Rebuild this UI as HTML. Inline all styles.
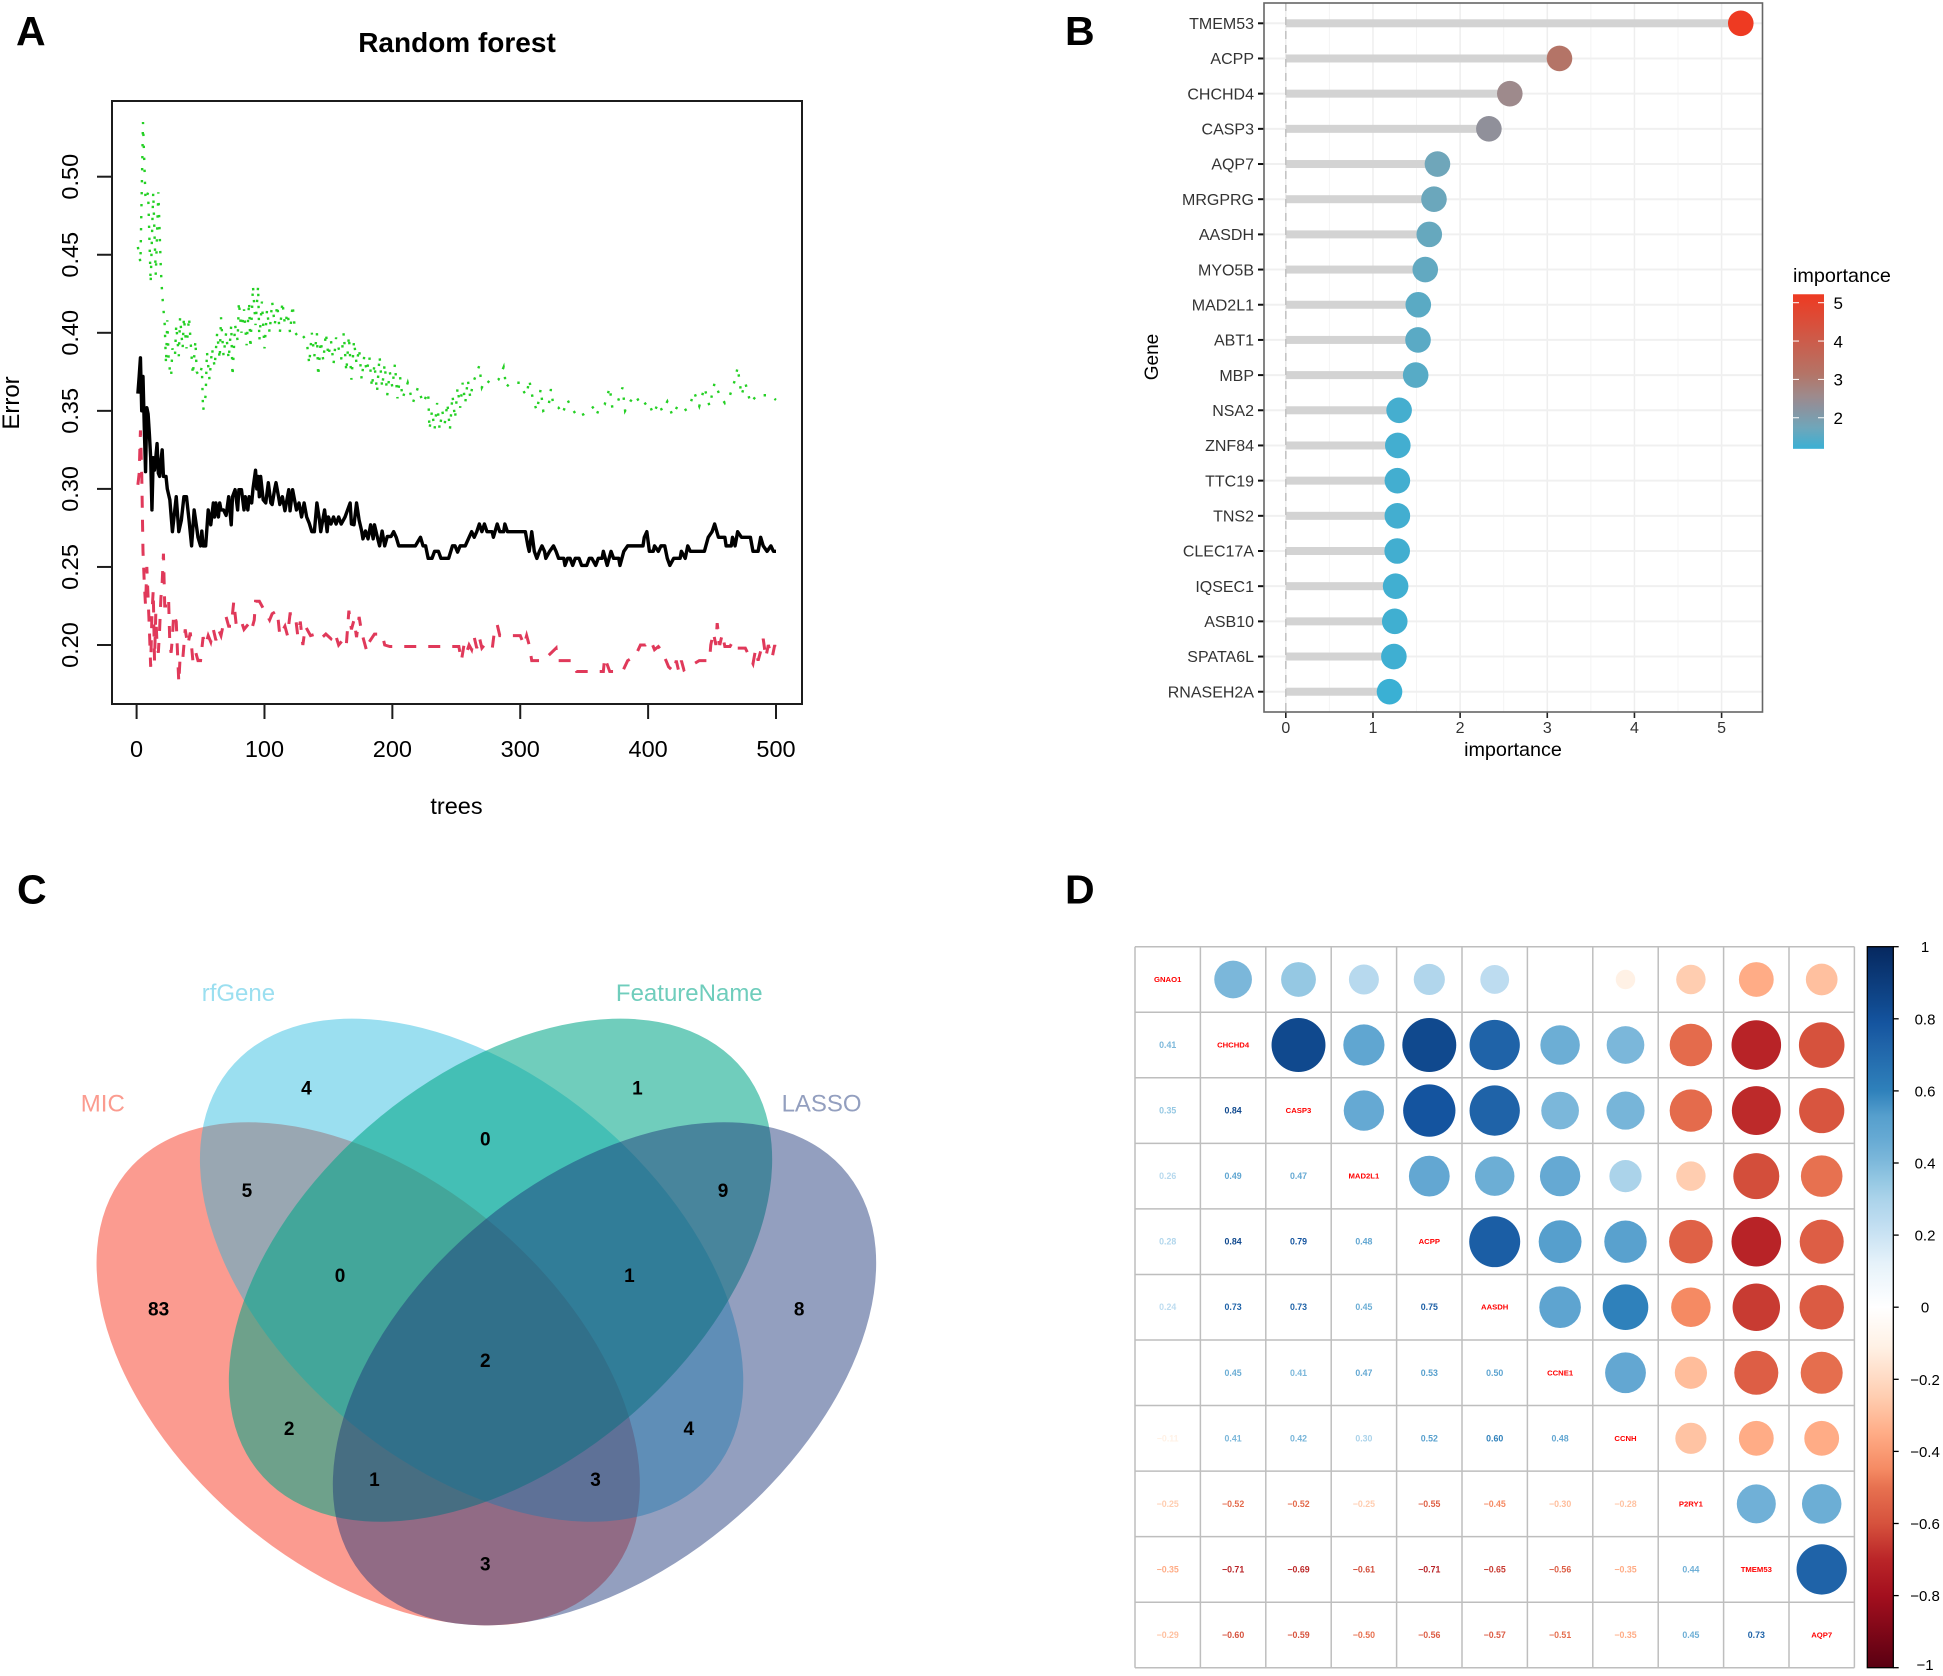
<!DOCTYPE html>
<html lang="en">
<head>
<meta charset="utf-8">
<title>Random forest, gene importance, Venn and correlation panels</title>
<style>
html,body{margin:0;padding:0;background:#fff;}
svg{display:block;font-family:"Liberation Sans",Arial,sans-serif;}
</style>
</head>
<body>
<svg id="figure" xmlns="http://www.w3.org/2000/svg" width="1943" height="1676" viewBox="0 0 1943 1676">
<rect x="0" y="0" width="1943" height="1676" fill="#fff"/>
<text x="16" y="45" font-size="41" font-weight="bold">A</text>
<text x="1065" y="45" font-size="41" font-weight="bold">B</text>
<text x="17" y="903.5" font-size="41" font-weight="bold">C</text>
<text x="1065" y="903.5" font-size="41" font-weight="bold">D</text>

<g>
<ellipse rx="1.2" ry="0.748" fill="#F72F16" fill-opacity="0.48" transform="translate(368.2 1373.8) scale(271.7 251.6) rotate(45)"/>
<ellipse rx="1.2" ry="0.748" fill="#1CB6DD" fill-opacity="0.44" transform="translate(471.6 1270.2) scale(271.7 251.6) rotate(45)"/>
<ellipse rx="1.2" ry="0.748" fill="#00A688" fill-opacity="0.56" transform="translate(500.5 1270.2) scale(271.7 251.6) rotate(-45)"/>
<ellipse rx="1.2" ry="0.748" fill="#1E377A" fill-opacity="0.48" transform="translate(604.5 1373.8) scale(271.7 251.6) rotate(-45)"/>
<g font-size="24" text-anchor="middle">
<text x="102.8" y="1111.5" fill="#FB9B8F">MIC</text>
<text x="238.4" y="1001" fill="#9BDFF0">rfGene</text>
<text x="689.3" y="1001" fill="#6FCDBC">FeatureName</text>
<text x="821.6" y="1111.5" fill="#939FBF">LASSO</text>
</g>
<g font-size="19" font-weight="bold" text-anchor="middle" fill="#000">
<text x="306.4" y="1094.7">4</text>
<text x="637.4" y="1094.7">1</text>
<text x="485.3" y="1145.4">0</text>
<text x="246.9" y="1197">5</text>
<text x="723.1" y="1197">9</text>
<text x="340.1" y="1282">0</text>
<text x="629.4" y="1282">1</text>
<text x="158.6" y="1315.3">83</text>
<text x="799.2" y="1315.3">8</text>
<text x="485.3" y="1367">2</text>
<text x="289.2" y="1435.1">2</text>
<text x="688.8" y="1435.1">4</text>
<text x="374.4" y="1485.8">1</text>
<text x="595.6" y="1485.8">3</text>
<text x="485.3" y="1570.3">3</text>
</g>
</g>
</svg>
<script>
/* ---------- Panel A data: [tree, error] ---------- */
const treeTicks = [0, 100, 200, 300, 400, 500];
const errorTicks = [0.20, 0.25, 0.30, 0.35, 0.40, 0.45, 0.50];
const oobError = [[1,.361],[2,.372],[3,.384],[4,.35],[5,.372],[6,.34],[7,.311],[8,.352],[9,.348],[10,.335],[11,.32],[12,.2865],[13,.32],[14,.312],[15,.32],[16,.329],[17,.31],[18,.308],[19,.318],[20,.325],[21,.308],[23,.308],[24,.3],[26,.293],[28,.2726],[31,.295],[33,.2726],[35,.28],[37,.295],[39,.295],[41,.28],[43,.2635],[45,.2865],[47,.275],[48,.269],[50,.2635],[51,.273],[52,.2635],[54,.2635],[56,.2865],[58,.277],[60,.291],[61,.282],[62,.291],[64,.282],[65,.291],[66,.2865],[68,.2865],[70,.283],[72,.295],[74,.277],[75,.295],[77,.2995],[79,.2865],[80,.2995],[82,.2995],[84,.2865],[85,.295],[87,.2865],[88,.295],[90,.291],[91,.3],[93,.312],[94,.3],[95,.308],[96,.295],[97,.308],[99,.293],[101,.291],[103,.304],[105,.291],[106,.29],[108,.3],[109,.304],[111,.295],[112,.29],[114,.295],[116,.286],[118,.295],[119,.2995],[120,.286],[122,.2995],[125,.2865],[127,.291],[129,.282],[131,.291],[133,.282],[135,.278],[137,.2726],[139,.2726],[141,.291],[143,.28],[144,.2726],[146,.282],[147,.2865],[149,.2726],[150,.282],[152,.2775],[154,.282],[156,.2775],[158,.282],[160,.2775],[163,.282],[165,.2865],[167,.291],[168,.2775],[170,.277],[172,.291],[174,.28],[176,.273],[177,.268],[179,.273],[181,.268],[183,.277],[185,.268],[186,.277],[188,.27],[190,.2635],[192,.273],[194,.2635],[196,.2695],[199,.2695],[201,.2726],[203,.269],[205,.2635],[212,.2635],[215,.2635],[218,.2635],[222,.269],[224,.2635],[226,.2635],[228,.2555],[231,.2555],[233,.26],[236,.26],[238,.2555],[244,.2555],[247,.2635],[249,.2635],[251,.2595],[253,.2635],[257,.2635],[260,.269],[262,.2726],[264,.269],[266,.2726],[268,.2775],[270,.2726],[272,.2775],[274,.2726],[278,.2726],[279,.269],[282,.2775],[284,.2726],[287,.2726],[288,.2775],[290,.2726],[304,.2726],[306,.2635],[307,.26],[309,.2726],[311,.26],[313,.2555],[315,.26],[317,.2635],[319,.26],[320,.2555],[323,.26],[326,.2635],[328,.26],[330,.2555],[334,.2555],[335,.251],[337,.2555],[339,.2555],[341,.251],[343,.2555],[346,.2555],[348,.251],[352,.251],[354,.2555],[356,.2555],[359,.251],[361,.2555],[364,.2555],[365,.26],[368,.251],[371,.26],[373,.2555],[377,.2555],[378,.251],[381,.26],[384,.2635],[386,.2635],[396,.2635],[397,.269],[399,.2726],[401,.26],[404,.26],[405,.2635],[408,.26],[410,.2635],[413,.2635],[415,.2555],[417,.251],[420,.2555],[425,.2555],[426,.26],[429,.2555],[431,.2635],[433,.26],[444,.26],[447,.269],[450,.2726],[452,.2775],[455,.269],[460,.269],[461,.2635],[465,.2635],[466,.269],[468,.2635],[470,.2726],[473,.269],[480,.269],[482,.26],[486,.26],[488,.269],[490,.2635],[493,.26],[496,.2635],[498,.26],[500,.26]];
const classOneError = [[1,.3026],[2,.31],[3,.3375],[4,.31],[5,.26],[6,.24],[7,.225],[8,.25],[9,.23],[10,.21],[11,.186],[12,.22],[13,.235],[14,.19],[15,.22],[16,.2],[17,.195],[18,.21],[19,.23],[20,.24],[21,.2585],[22,.225],[24,.225],[25,.23],[26,.2],[27,.195],[28,.205],[29,.22],[31,.215],[32,.195],[33,.176],[34,.192],[36,.19],[38,.21],[40,.2],[42,.208],[44,.19],[46,.196],[48,.19],[50,.19],[52,.205],[54,.2],[56,.206],[58,.202],[60,.21],[62,.203],[64,.21],[66,.206],[68,.214],[70,.218],[72,.212],[74,.212],[76,.228],[78,.212],[82,.215],[84,.21],[88,.214],[90,.21],[92,.216],[93,.228],[96,.228],[100,.222],[104,.216],[106,.22],[110,.222],[112,.206],[116,.212],[118,.206],[120,.22],[124,.22],[126,.206],[128,.215],[130,.2],[132,.212],[136,.206],[140,.207],[144,.204],[148,.207],[152,.204],[155,.208],[158,.2],[162,.204],[164,.2],[166,.222],[168,.21],[170,.216],[172,.205],[174,.218],[176,.208],[180,.196],[182,.202],[186,.207],[192,.207],[194,.2],[198,.199],[240,.199],[252,.199],[254,.19],[256,.2],[258,.195],[260,.2],[262,.197],[264,.205],[266,.198],[268,.205],[270,.198],[272,.2],[278,.197],[280,.21],[282,.213],[284,.206],[300,.206],[303,.2],[305,.206],[307,.2],[309,.19],[316,.19],[318,.19],[328,.198],[329,.19],[336,.19],[340,.19],[342,.186],[344,.183],[356,.183],[365,.183],[366,.192],[370,.183],[380,.183],[384,.19],[390,.193],[394,.2],[398,.2],[402,.203],[405,.197],[408,.199],[410,.197],[414,.19],[416,.186],[420,.183],[422,.19],[424,.183],[426,.19],[428,.184],[440,.19],[448,.19],[449,.2],[451,.208],[453,.2],[454,.214],[456,.2],[458,.207],[460,.199],[464,.199],[466,.202],[468,.198],[476,.198],[482,.188],[484,.197],[486,.19],[488,.196],[490,.204],[492,.192],[494,.2],[497,.192],[499,.2],[500,.196]];
const classTwoError = [[1,.455],[3,.445],[5,.535],[7,.485],[9,.49],[11,.432],[13,.49],[15,.437],[17,.49],[19,.44],[20,.425],[22,.405],[23,.38],[24,.408],[25,.385],[26,.376],[27,.372],[28,.39],[30,.385],[31,.405],[33,.385],[34,.41],[36,.39],[37,.41],[39,.39],[41,.41],[43,.385],[44,.373],[46,.395],[47,.375],[49,.372],[51,.378],[52,.35],[54,.36],[55,.388],[57,.37],[59,.39],[61,.378],[63,.40],[65,.383],[66,.41],[68,.385],[70,.40],[72,.383],[74,.405],[75,.372],[77,.405],[79,.395],[80,.42],[82,.40],[84,.415],[86,.392],[88,.42],[89,.39],[91,.43],[93,.405],[95,.43],[96,.395],[98,.42],[100,.39],[102,.415],[104,.40],[106,.42],[108,.405],[110,.418],[112,.40],[114,.42],[116,.405],[118,.413],[120,.40],[122,.418],[124,.40],[126,.398],[128,.40],[133,.395],[135,.38],[137,.40],[139,.385],[141,.40],[142,.372],[144,.395],[146,.382],[148,.40],[150,.385],[152,.395],[154,.38],[156,.397],[158,.39],[160,.383],[162,.40],[164,.375],[166,.398],[168,.37],[170,.395],[172,.38],[174,.39],[176,.37],[178,.385],[180,.375],[182,.385],[184,.365],[186,.38],[188,.362],[190,.385],[192,.365],[194,.38],[196,.36],[198,.375],[200,.365],[202,.38],[204,.358],[206,.372],[208,.358],[212,.368],[216,.355],[220,.365],[224,.355],[228,.362],[229,.338],[231,.35],[233,.338],[235,.355],[237,.338],[239,.35],[241,.342],[243,.355],[245,.338],[247,.36],[249,.345],[251,.365],[253,.352],[255,.368],[257,.355],[259,.37],[261,.358],[263,.368],[265,.372],[268,.379],[270,.365],[273,.37],[276,.368],[280,.368],[283,.37],[287,.378],[289,.365],[292,.368],[296,.368],[300,.368],[303,.362],[305,.36],[307,.37],[310,.357],[313,.35],[316,.364],[318,.35],[322,.352],[324,.364],[326,.353],[330,.352],[333,.348],[337,.357],[340,.352],[345,.346],[350,.348],[358,.353],[360,.348],[362,.352],[366,.354],[370,.365],[372,.352],[376,.355],[380,.365],[382,.35],[386,.356],[390,.36],[395,.353],[400,.356],[404,.348],[408,.355],[411,.35],[415,.356],[419,.347],[423,.353],[428,.35],[432,.352],[436,.362],[440,.353],[444,.365],[448,.353],[452,.368],[456,.36],[460,.355],[464,.36],[468,.37],[470,.378],[473,.36],[476,.368],[480,.355],[485,.36],[490,.36],[495,.36],[500,.357]];

/* ---------- Panel B data ---------- */
const geneCategories = ["TMEM53","ACPP","CHCHD4","CASP3","AQP7","MRGPRG","AASDH","MYO5B","MAD2L1","ABT1","MBP","NSA2","ZNF84","TTC19","TNS2","CLEC17A","IQSEC1","ASB10","SPATA6L","RNASEH2A"];
const geneImportance = [5.22,3.14,2.57,2.33,1.74,1.70,1.646,1.60,1.52,1.517,1.49,1.30,1.285,1.28,1.28,1.278,1.26,1.25,1.24,1.19];
const importanceTicks = [0,1,2,3,4,5];
const legendTicks = [2,3,4,5];

/* ---------- Panel D data ---------- */
const corrGenes = ["GNAO1","CHCHD4","CASP3","MAD2L1","ACPP","AASDH","CCNE1","CCNH","P2RY1","TMEM53","AQP7"];
const corrLower = [
  [],
  [0.41],
  [0.35,0.84],
  [0.26,0.49,0.47],
  [0.28,0.84,0.79,0.48],
  [0.24,0.73,0.73,0.45,0.75],
  [null,0.45,0.41,0.47,0.53,0.50],
  [-0.11,0.41,0.42,0.30,0.52,0.60,0.48],
  [-0.25,-0.52,-0.52,-0.25,-0.55,-0.45,-0.30,-0.28],
  [-0.35,-0.71,-0.69,-0.61,-0.71,-0.65,-0.56,-0.35,0.44],
  [-0.29,-0.60,-0.59,-0.50,-0.56,-0.57,-0.51,-0.35,0.45,0.73]
];
const colorbarTicks = [1,0.8,0.6,0.4,0.2,0,-0.2,-0.4,-0.6,-0.8,-1];

const NS = "http://www.w3.org/2000/svg";
const svg = document.getElementById("figure");
function el(tag, attrs, parent, txt){
  const e = document.createElementNS(NS, tag);
  for (const k in attrs) e.setAttribute(k, attrs[k]);
  if (txt !== undefined) e.textContent = txt;
  (parent || svg).appendChild(e);
  return e;
}
function hex(c){return [parseInt(c.slice(1,3),16),parseInt(c.slice(3,5),16),parseInt(c.slice(5,7),16)];}
function ramp(stops, v){
  if (v <= stops[0][0]) return stops[0][1];
  for (let i = 1; i < stops.length; i++){
    if (v <= stops[i][0]){
      const t = (v - stops[i-1][0]) / (stops[i][0] - stops[i-1][0]);
      const a = hex(stops[i-1][1]), b = hex(stops[i][1]);
      return "rgb(" + a.map((x,j)=>Math.round(x + (b[j]-x)*t)).join(",") + ")";
    }
  }
  return stops[stops.length-1][1];
}

/* ===== Panel A ===== */
const gA = el("g", {});


const xTree = t => 136.6 + t * 1.2788;
const yErr = v => 645 - (v - 0.2) * 1561;
const title = el("text", {x:457, y:52, "font-size":28, "font-weight":"bold", "text-anchor":"middle"}, gA, "Random forest");


const boxA = el("rect", {x:112, y:101, width:690, height:603, fill:"none", stroke:"#1c1c1c", "stroke-width":2}, gA);


treeTicks.forEach(t => {
  const tick = el("line", {x1:xTree(t), x2:xTree(t), y1:704, y2:719, stroke:"#1c1c1c", "stroke-width":2}, gA);
  
  
  const lab = el("text", {x:xTree(t), y:757, "font-size":23.5, "text-anchor":"middle"}, gA, String(t));
  
  
});
errorTicks.forEach(v => {
  const tick = el("line", {x1:97, x2:112, y1:yErr(v), y2:yErr(v), stroke:"#1c1c1c", "stroke-width":2}, gA);
  
  
  const lab = el("text", {"font-size":23.5, "text-anchor":"middle", transform:"translate(78 " + yErr(v) + ") rotate(-90)"}, gA, v.toFixed(2));
  
  
});
const xTitleA = el("text", {x:456.5, y:814, "font-size":23.5, "text-anchor":"middle"}, gA, "trees");


const yTitleA = el("text", {"font-size":24, "text-anchor":"middle", transform:"translate(19 403) rotate(-90)"}, gA, "Error");


function pts(arr){return arr.map(p => xTree(p[0]).toFixed(2) + "," + yErr(p[1]).toFixed(2)).join(" ");}
const lineOob = el("polyline", {points:pts(oobError), fill:"none", stroke:"#000", "stroke-width":3.4, "stroke-linejoin":"round"}, gA);


const lineOne = el("polyline", {points:pts(classOneError), fill:"none", stroke:"#E0395A", "stroke-width":3, "stroke-dasharray":"12 12"}, gA);


const lineTwo = el("polyline", {points:pts(classTwoError), fill:"none", stroke:"#24D024", "stroke-width":2.4, "stroke-dasharray":"2.4 9.6"}, gA);



/* ===== Panel B ===== */
const gB = el("g", {});


const xImp = v => 1285.8 + v * 87.16;
const yRow = i => 23.3 + i * 35.18;
const impStops = [[1.19,"#3AB0D4"],[1.74,"#6FA6BA"],[2.33,"#90909A"],[2.57,"#9E8A8C"],[3.14,"#B47467"],[5.22,"#EE3A22"]];
[0.5,1.5,2.5,3.5,4.5].forEach(v => {
  const g = el("line", {x1:xImp(v), x2:xImp(v), y1:3, y2:712, stroke:"#f4f4f4", "stroke-width":1}, gB);
  
  
});
importanceTicks.forEach(v => {
  const g = el("line", {x1:xImp(v), x2:xImp(v), y1:3, y2:712, stroke:"#eeeeee", "stroke-width":1.5}, gB);
  
  
  const t = el("line", {x1:xImp(v), x2:xImp(v), y1:712, y2:718, stroke:"#222", "stroke-width":1.6}, gB);
  
  
  const l = el("text", {x:xImp(v), y:733, "font-size":16, "text-anchor":"middle", fill:"#333"}, gB, String(v));
  
  
});
geneCategories.forEach((g, i) => {
  const grid = el("line", {x1:1264, x2:1762, y1:yRow(i), y2:yRow(i), stroke:"#f0f0f0", "stroke-width":2}, gB);
  
  
  const stem = el("rect", {x:xImp(0), y:yRow(i)-4, width:xImp(geneImportance[i])-xImp(0), height:8, fill:"#d3d3d3"}, gB);
  
  
  const tick = el("line", {x1:1258, x2:1264, y1:yRow(i), y2:yRow(i), stroke:"#111", "stroke-width":2}, gB);
  
  
  const lab = el("text", {x:1254, y:yRow(i)+5.7, "font-size":16, "text-anchor":"end", fill:"#333"}, gB, g);
  
  
});
const zeroLine = el("line", {x1:xImp(0), x2:xImp(0), y1:3, y2:712, stroke:"#c4c4c4", "stroke-width":1.6, "stroke-dasharray":"8 6"}, gB);


geneCategories.forEach((g, i) => {
  const dot = el("circle", {cx:xImp(geneImportance[i]), cy:yRow(i), r:12.8, fill:ramp(impStops, geneImportance[i])}, gB);
  
  
});
const frameB = el("rect", {x:1264, y:3, width:498.5, height:709, fill:"none", stroke:"#666", "stroke-width":1.6}, gB);


const xTitleB = el("text", {x:1513, y:756, "font-size":19.8, "text-anchor":"middle"}, gB, "importance");


const yTitleB = el("text", {"font-size":19, "text-anchor":"middle", transform:"translate(1158 357) rotate(-90)"}, gB, "Gene");


const legTitle = el("text", {x:1793, y:282, "font-size":19.8}, gB, "importance");


const defs = el("defs", {});
const gradB = el("linearGradient", {id:"impGrad", x1:0, y1:1, x2:0, y2:0}, defs);
impStops.forEach(s => el("stop", {offset:((s[0]-1.19)/(5.22-1.19)).toFixed(3), "stop-color":s[1]}, gradB));
const yLeg = v => 302.7 + (5 - v) * 38.35;
const legBar = el("rect", {x:1793, y:yLeg(5.22), width:31, height:yLeg(1.19)-yLeg(5.22), fill:"url(#impGrad)"}, gB);


legendTicks.forEach(v => {
  const a = el("line", {x1:1793, x2:1799, y1:yLeg(v), y2:yLeg(v), stroke:"#fff", "stroke-width":1}, gB);
  
  
  const b = el("line", {x1:1818, x2:1824, y1:yLeg(v), y2:yLeg(v), stroke:"#fff", "stroke-width":1}, gB);
  
  
  const l = el("text", {x:1833.5, y:yLeg(v)+6.3, "font-size":17}, gB, String(v));
  
  
});

/* ===== Panel D ===== */
const gD = el("g", {});


const gridX0 = 1135, gridY0 = 946.7, cellW = 65.4, cellH = 65.55, nCells = corrGenes.length;
const corrStops = [[-1,"#5A0012"],[-0.8,"#A30F1E"],[-0.7,"#BA2528"],[-0.6,"#D6523D"],[-0.5,"#E77150"],[-0.45,"#F58A63"],[-0.35,"#FFAC86"],[-0.25,"#FFCDB0"],[-0.11,"#FFF1E5"],[0,"#FFFFFF"],[0.12,"#E6F2FA"],[0.24,"#BDDCF0"],[0.3,"#ABD3EA"],[0.35,"#95C8E3"],[0.41,"#7BB7DA"],[0.47,"#65A9D3"],[0.53,"#569FCD"],[0.6,"#2F81BB"],[0.73,"#1F63A8"],[0.79,"#14549F"],[0.84,"#10498E"],[1,"#06285F"]];
for (let k = 0; k <= nCells; k++){
  const v = el("line", {x1:gridX0+k*cellW, x2:gridX0+k*cellW, y1:gridY0, y2:gridY0+nCells*cellH, stroke:"#bebebe", "stroke-width":1.5}, gD);
  
  
  const h = el("line", {x1:gridX0, x2:gridX0+nCells*cellW, y1:gridY0+k*cellH, y2:gridY0+k*cellH, stroke:"#bebebe", "stroke-width":1.5}, gD);
  
  
}
corrGenes.forEach((g, i) => {
  const cx = gridX0 + (i+0.5)*cellW, cy = gridY0 + (i+0.5)*cellH;
  const t = el("text", {x:cx, y:cy+2.5, "font-size":7.7, "font-weight":"bold", "text-anchor":"middle", fill:"#ff0000"}, gD, g);
  
  
});
corrLower.forEach((row, r) => {
  row.forEach((val, c) => {
    if (val === null) return;
    const col = ramp(corrStops, val);
    const tx = gridX0 + (c+0.5)*cellW, ty = gridY0 + (r+0.5)*cellH;
    const label = (val < 0 ? "\u2212" : "") + Math.abs(val).toFixed(2);
    const t = el("text", {x:tx, y:ty+3, "font-size":8.8, "font-weight":"bold", "text-anchor":"middle", fill:col}, gD, label);
    
    
    const circ = el("circle", {cx:gridX0+(r+0.5)*cellW, cy:gridY0+(c+0.5)*cellH, r:29.43*Math.sqrt(Math.abs(val)), fill:col}, gD);
    
    
  });
});
const gradD = el("linearGradient", {id:"corrGrad", x1:0, y1:1, x2:0, y2:0}, defs);
corrStops.forEach(s => el("stop", {offset:((s[0]+1)/2).toFixed(3), "stop-color":s[1]}, gradD));
const yBar = v => 946.7 + (1 - v) / 2 * 721;
const bar = el("rect", {x:1867.3, y:yBar(1), width:26, height:721, fill:"url(#corrGrad)", stroke:"#000", "stroke-width":1.3}, gD);


colorbarTicks.forEach(v => {
  const t = el("line", {x1:1893.3, x2:1898.7, y1:yBar(v), y2:yBar(v), stroke:"#000", "stroke-width":1.3}, gD);
  
  
  const l = el("text", {x:1925, y:yBar(v)+(v===1?5.5:v===-1?2.5:5.5), "font-size":15, "text-anchor":"middle"}, gD, (v<0?"\u2212":"") + String(Math.abs(v)));
  
  
});
</script>
</body>
</html>
